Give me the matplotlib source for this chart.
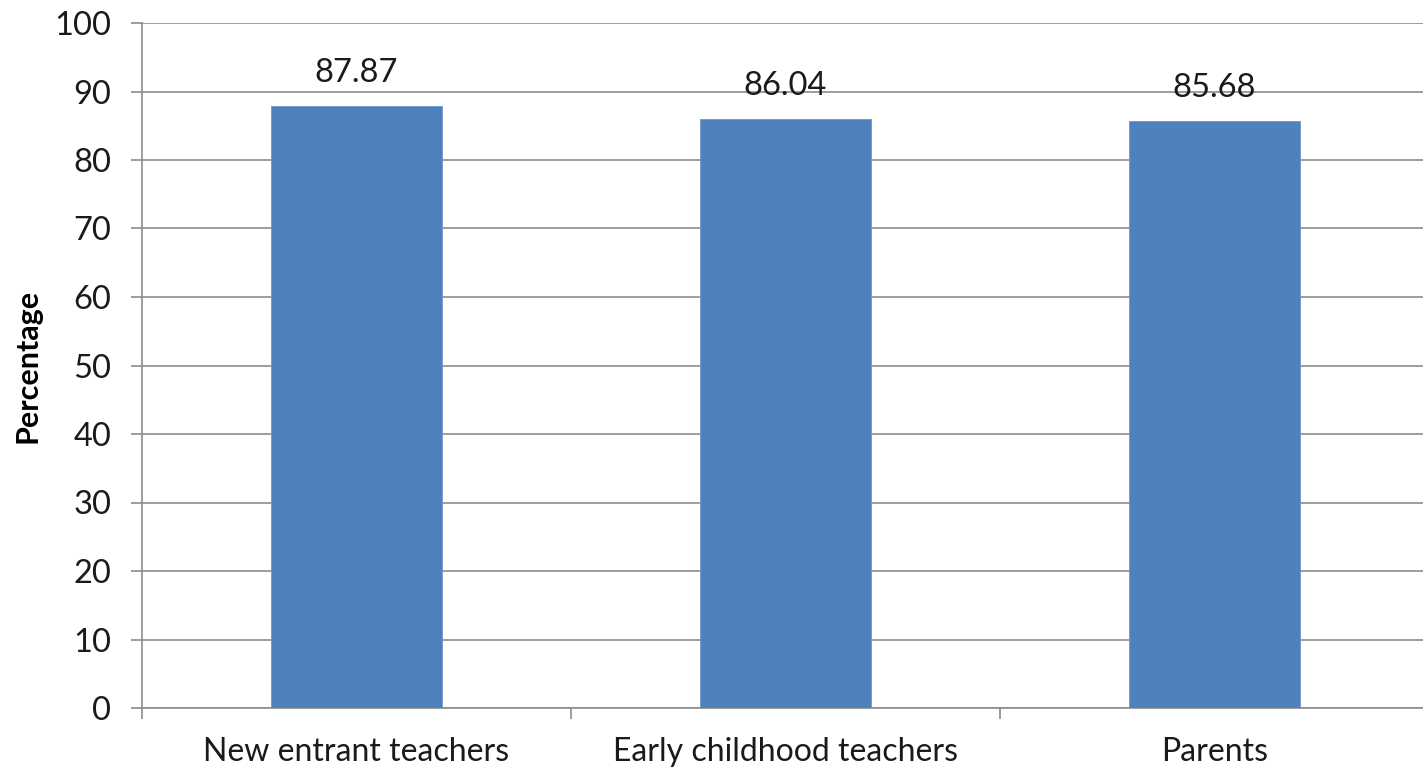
import matplotlib
matplotlib.use("Agg")
import matplotlib.pyplot as plt
import numpy as np

categories = ["New entrant teachers", "Early childhood teachers", "Parents"]
percentages = [87.87, 86.04, 85.68]
y_ticks = [0, 10, 20, 30, 40, 50, 60, 70, 80, 90, 100]

plt.rcParams["font.family"] = ["Lato", "DejaVu Sans"]

W, H = 1423, 772
fig = plt.figure(figsize=(W / 100, H / 100), dpi=100)
# plot area: left spine at x=142, zero line at y=708, 100 at y=23
ax = fig.add_axes([142 / W, (H - 708) / H, 1287 / W, 685 / H])

x = np.arange(len(categories))
ax.bar(x, percentages, width=0.4, color="#4F81BD", edgecolor="#6F97CC",
       linewidth=0.6, zorder=3)
for xi, v in zip(x, percentages):
    ax.annotate(f"{v:.2f}", (xi, v), xytext=(0, 13), textcoords="offset points",
                ha="center", va="bottom", fontsize=23.5, color="#1a1a1a", zorder=4)

ax.set_xlim(-0.5, len(categories) - 0.5)
ax.set_ylim(0, 100)
ax.set_yticks(y_ticks)
ax.yaxis.grid(True, color="#8c8c8c", linewidth=1.2, zorder=0)
ax.set_axisbelow(True)

ax.set_xticks(x)
ax.set_xticklabels(categories, fontsize=23, color="#1a1a1a")
ax.tick_params(axis="x", length=0, pad=21)
ax.set_xticks(np.arange(len(categories) + 1) - 0.5, minor=True)
ax.tick_params(axis="x", which="minor", length=8, width=1.2, color="#8c8c8c",
               direction="out")
ax.tick_params(axis="y", length=8, width=1.2, color="#8c8c8c", pad=14,
               labelsize=23.5, labelcolor="#1a1a1a")

for side in ("top", "right"):
    ax.spines[side].set_visible(False)
for side in ("left", "bottom"):
    ax.spines[side].set_color("#8c8c8c")
    ax.spines[side].set_linewidth(1.2)

fig.text(28 / W, 1 - 366 / H, "Percentage", rotation=90, ha="center",
         va="center", fontsize=22, fontweight="bold", color="#000000")

fig.savefig("out.png", dpi=100)
